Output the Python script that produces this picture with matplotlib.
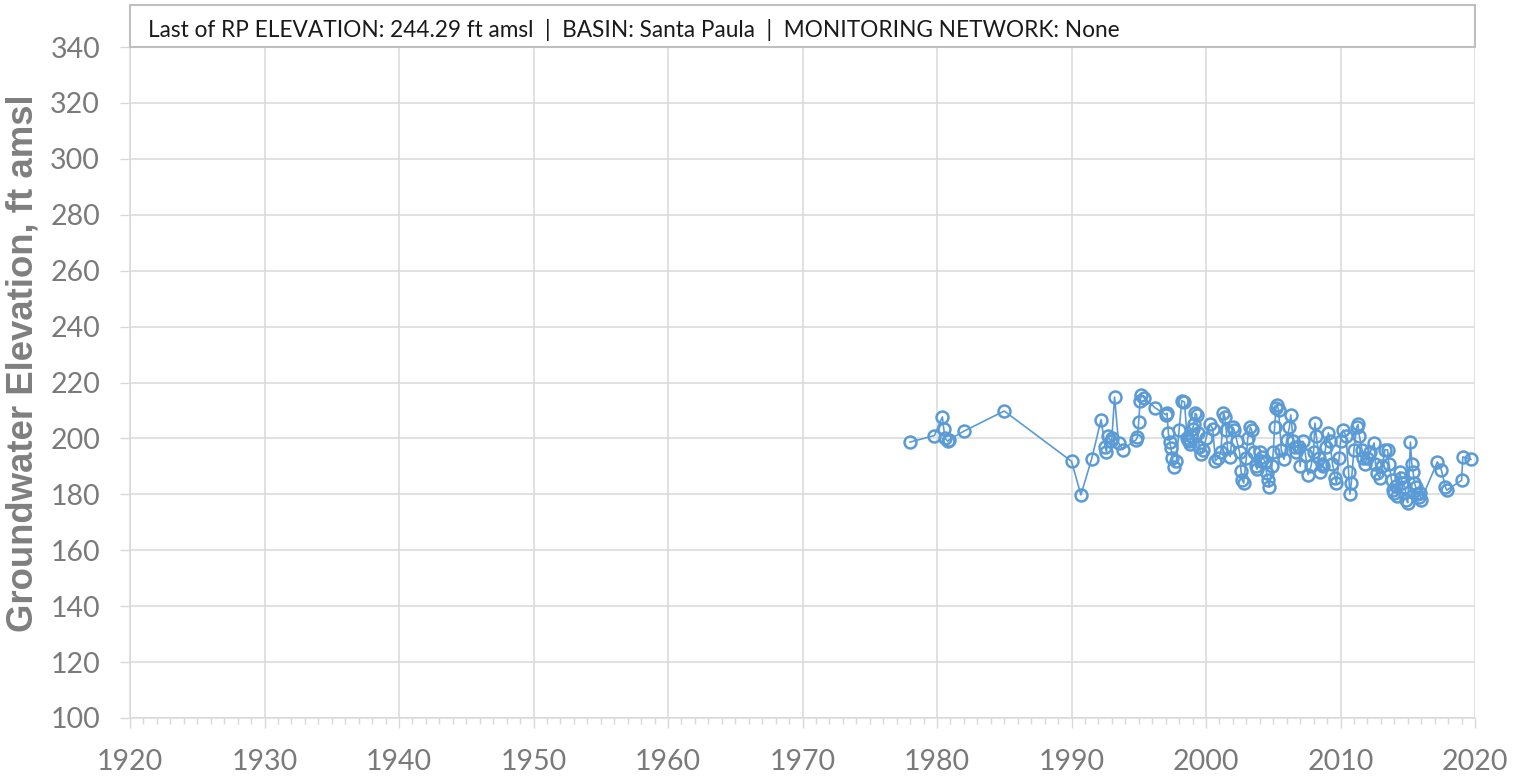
import matplotlib
matplotlib.use("Agg")
import matplotlib.pyplot as plt
from matplotlib.ticker import MultipleLocator
from matplotlib.patches import Rectangle

# ---- data (decimal year, groundwater elevation ft amsl) ----
years = [
    1978.0, 1979.8, 1980.4, 1980.5, 1980.6, 1980.8, 1980.9, 1982.0, 1985.0,
    1990.0, 1990.7, 1991.5, 1992.2, 1992.5, 1992.6, 1992.7, 1992.9, 1993.0,
    1993.2, 1993.5, 1993.8, 1994.8, 1994.9, 1995.0, 1995.1, 1995.2, 1995.4,
    1996.2, 1997.0, 1997.1, 1997.2, 1997.3, 1997.4, 1997.5, 1997.6, 1997.8,
    1998.0, 1998.2, 1998.4, 1998.6, 1998.65, 1998.7, 1998.8, 1998.9, 1999.0,
    1999.1, 1999.2, 1999.3, 1999.4, 1999.5, 1999.6, 1999.8, 2000.0, 2000.3,
    2000.5, 2000.7, 2000.9, 2001.1, 2001.3, 2001.4, 2001.5, 2001.6, 2001.8,
    2002.0, 2002.1, 2002.3, 2002.5, 2002.6, 2002.7, 2002.8, 2003.0, 2003.1,
    2003.3, 2003.4, 2003.6, 2003.7, 2003.8, 2004.0, 2004.1, 2004.2, 2004.4,
    2004.5, 2004.6, 2004.7, 2004.9, 2005.0, 2005.1, 2005.2, 2005.3, 2005.4,
    2005.6, 2005.8, 2006.0, 2006.2, 2006.3, 2006.5, 2006.6, 2006.7, 2006.9,
    2007.0, 2007.2, 2007.4, 2007.6, 2007.8, 2008.0, 2008.1, 2008.2, 2008.4,
    2008.5, 2008.6, 2008.7, 2008.9, 2009.1, 2009.2, 2009.4, 2009.6, 2009.7,
    2009.9, 2010.0, 2010.2, 2010.4, 2010.6, 2010.7, 2010.8, 2011.0, 2011.2,
    2011.3, 2011.4, 2011.6, 2011.7, 2011.8, 2012.0, 2012.2, 2012.5, 2012.6,
    2012.7, 2012.9, 2013.1, 2013.3, 2013.5, 2013.6, 2013.8, 2013.9, 2014.0,
    2014.1, 2014.2, 2014.4, 2014.5, 2014.6, 2014.8, 2014.9, 2015.0, 2015.2,
    2015.3, 2015.4, 2015.5, 2015.6, 2015.7, 2015.8, 2015.9, 2016.0, 2017.2,
    2017.5, 2017.8, 2017.9, 2019.0, 2019.1, 2019.7,
]
elevations = [
    198.7, 201.0, 207.7, 203.5, 200.0, 199.0, 199.5, 202.6, 209.8,
    191.8, 179.8, 192.7, 206.7, 197.0, 195.0, 201.0, 199.0, 200.0,
    214.8, 198.5, 196.0, 199.5, 200.5, 206.0, 213.5, 215.5, 214.5,
    211.0, 208.5, 209.0, 202.0, 198.7, 196.5, 193.0, 189.6, 192.0,
    203.0, 213.5, 213.0, 200.0, 199.5, 199.0, 198.0, 201.0, 203.5,
    205.0, 209.0, 208.5, 202.0, 197.0, 194.5, 196.0, 200.0, 205.0,
    203.5, 192.0, 193.0, 195.0, 209.0, 207.7, 203.0, 196.5, 193.5,
    204.0, 203.0, 199.0, 195.0, 188.5, 185.0, 184.0, 193.0, 200.0,
    204.0, 203.0, 195.0, 190.0, 189.0, 195.0, 192.0, 193.5, 191.5,
    187.5, 185.0, 182.6, 190.0, 195.0, 204.0, 211.0, 212.0, 210.0,
    196.0, 192.5, 199.5, 204.0, 208.4, 199.0, 197.0, 195.0, 197.0,
    190.0, 199.0, 194.0, 187.0, 190.0, 195.0, 205.5, 201.0, 193.0,
    188.0, 191.0, 190.0, 197.0, 202.0, 199.0, 191.0, 186.0, 184.0,
    193.0, 199.0, 203.0, 201.0, 188.0, 180.0, 184.0, 196.0, 204.0,
    205.0, 201.0, 196.0, 193.0, 191.0, 193.0, 195.0, 198.4, 191.0,
    187.6, 186.0, 190.0, 196.0, 195.9, 191.0, 185.0, 181.5, 180.5,
    183.0, 179.5, 188.0, 186.0, 184.0, 182.6, 178.0, 177.0, 198.7,
    191.0, 188.0, 184.0, 182.5, 180.0, 179.0, 180.5, 178.0, 191.6,
    188.7, 182.6, 181.5, 185.0, 193.4, 192.5,
]

x_ticks = list(range(1920, 2021, 10))
y_ticks = list(range(100, 341, 20))
info_text = ("Last of RP ELEVATION: 244.29 ft amsl  |  BASIN: Santa Paula  |  "
             "MONITORING NETWORK: None")
y_label = "Groundwater Elevation, ft amsl"

# ---- figure ----
W, H = 1528, 781
fig = plt.figure(figsize=(W / 100, H / 100), dpi=100)
L, R, T, B = 130, 1475, 47, 718
ax = fig.add_axes([L / W, 1 - B / H, (R - L) / W, (B - T) / H])

line_col = "#5B9BD5"
grid_col = "#D9D9D9"
tick_col = "#7A7A7A"

ax.plot(years, elevations, color=line_col, lw=1.2, marker="o", ms=8.6,
        mfc="none", mec=line_col, mew=1.8, zorder=3, clip_on=False)

ax.set_xlim(1920, 2020)
ax.set_ylim(100, 340)
ax.set_xticks(x_ticks)
ax.set_yticks(y_ticks)
ax.xaxis.set_minor_locator(MultipleLocator(1))
ax.grid(True, which="major", color=grid_col, lw=1.1, zorder=0)
ax.set_axisbelow(True)

for s in ["top", "right"]:
    ax.spines[s].set_visible(False)
for s in ["left", "bottom"]:
    ax.spines[s].set_color(grid_col)
    ax.spines[s].set_linewidth(1.1)

ax.tick_params(axis="both", which="major", direction="out", length=7,
               width=1.0, color=grid_col, labelcolor=tick_col,
               labelsize=20.5)
ax.tick_params(axis="x", which="minor", direction="out", length=4,
               width=1.0, color=grid_col)
for lab in ax.get_xticklabels() + ax.get_yticklabels():
    lab.set_fontfamily("Lato")

# info box above the plot
box = Rectangle((L / W, 1 - T / H), (R - L) / W, (T - 5) / H,
                transform=fig.transFigure, facecolor="white",
                edgecolor="#BFBFBF", lw=1.5, zorder=5)
fig.add_artist(box)
t = fig.text(148 / W, 1 - 30 / H, info_text, fontsize=14, family="Lato",
             color="#1a1a1a", va="center", ha="left", zorder=6)

yl = fig.text(23 / W, 1 - 363 / H, y_label, rotation=90, fontsize=21,
              fontweight="bold", family="Liberation Sans", color="#7F7F7F",
              va="center", ha="center")

# fit text sizes / label offsets to the reference layout
fig.canvas.draw()
r = fig.canvas.get_renderer()
w = t.get_window_extent(r).width
t.set_fontsize(14 * 969 / w)
h = yl.get_window_extent(r).height
yl.set_fontsize(21 * 537 / h)

ylab = ax.get_yticklabels()[-1]
xr = ylab.get_window_extent(r).x1
cur_pad = ax.yaxis.get_major_ticks()[0].get_pad()
ax.tick_params(axis="y", pad=cur_pad + (xr - 100) * 72 / 100)

xlab = ax.get_xticklabels()[0]
bb = xlab.get_window_extent(r)
yc = H - (bb.y0 + bb.y1) / 2
cur_pad = ax.xaxis.get_major_ticks()[0].get_pad()
ax.tick_params(axis="x", pad=cur_pad + (762 - yc) * 72 / 100)

fig.savefig("out.png", dpi=100)
